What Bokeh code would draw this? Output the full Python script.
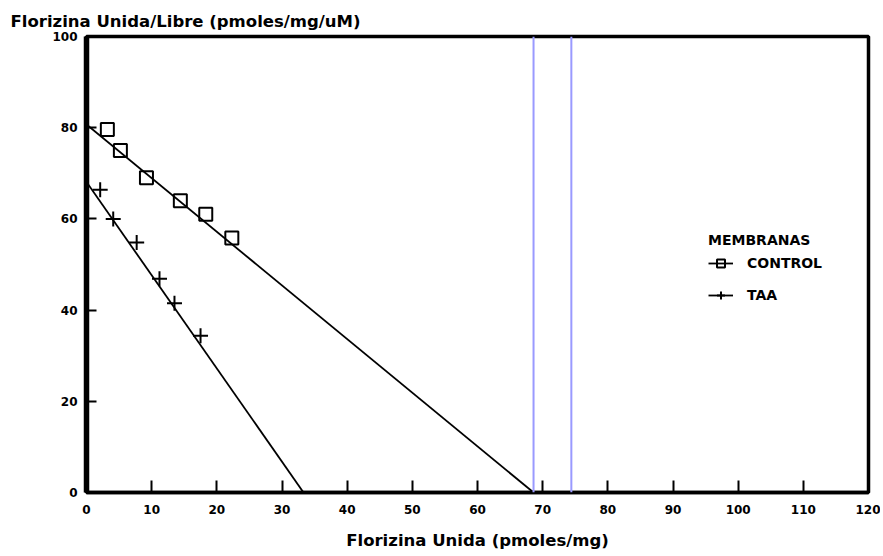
from bokeh.plotting import figure
from bokeh.models import Range1d, FixedTicker, Span, Legend, LegendItem, Title
from bokeh.embed import file_html
from bokeh.resources import INLINE

# ---- data ----
control_x = [3.2, 5.2, 9.2, 14.4, 18.3, 22.3]
control_y = [79.6, 75.0, 69.0, 64.0, 61.0, 55.8]
taa_x = [2.1, 4.1, 7.7, 11.2, 13.5, 17.5]
taa_y = [66.4, 60.0, 54.8, 46.9, 41.5, 34.4]
control_fit_x = [0.0, 68.6]
control_fit_y = [80.7, 0.0]
taa_fit_x = [0.0, 33.3]
taa_fit_y = [68.1, 0.0]
x_ticks = [0, 10, 20, 30, 40, 50, 60, 70, 80, 90, 100, 110, 120]
y_ticks = [0, 20, 40, 60, 80, 100]
cursor_x = [68.6, 74.4]
series_labels = ["CONTROL", "TAA"]
legend_title = "MEMBRANAS"
title_text = "Florizina Unida/Libre (pmoles/mg/uM)"
xlabel_text = "Florizina Unida (pmoles/mg)"

FONT = "DejaVu Sans"

p = figure(width=880, height=556, output_backend="svg", toolbar_location=None,
           x_range=Range1d(0, 120), y_range=Range1d(0, 100),
           min_border_left=86, min_border_right=12, min_border_top=36, min_border_bottom=64)
p.background_fill_color = "white"
p.border_fill_color = "white"
p.grid.visible = False
p.outline_line_color = "black"
p.outline_line_width = 3.5

for ax in (p.xaxis[0], p.yaxis[0]):
    ax.major_tick_out = 0
    ax.minor_tick_in = 0
    ax.minor_tick_out = 0
    ax.major_tick_line_width = 2
    ax.major_tick_line_color = "black"
    ax.axis_line_color = "black"
    ax.major_label_text_font = FONT
    ax.major_label_text_font_style = "bold"
    ax.major_label_text_font_size = "12px"
    ax.major_label_text_color = "black"

p.xaxis[0].ticker = FixedTicker(ticks=x_ticks)
p.yaxis[0].ticker = FixedTicker(ticks=y_ticks)
p.xaxis[0].major_tick_in = 12
p.yaxis[0].major_tick_in = 10
p.xaxis[0].axis_line_width = 3.5
p.yaxis[0].axis_line_width = 5.5
p.xaxis[0].major_label_standoff = 12
p.yaxis[0].major_label_standoff = 9
p.xaxis[0].axis_label = xlabel_text
p.xaxis[0].axis_label_text_font = FONT
p.xaxis[0].axis_label_text_font_style = "bold"
p.xaxis[0].axis_label_text_font_size = "16.5px"
p.xaxis[0].axis_label_text_color = "black"
p.xaxis[0].axis_label_standoff = 14

# cursor lines
for cx in cursor_x:
    p.add_layout(Span(location=cx, dimension="height", line_color="#9a9aff", line_width=2))

# fit lines and points
cl = p.line(control_fit_x, control_fit_y, line_color="black", line_width=1.8)
tl = p.line(taa_fit_x, taa_fit_y, line_color="black", line_width=1.8)
cs = p.scatter(control_x, control_y, marker="square", size=13, line_color="black",
               line_width=2, fill_alpha=0)
ts = p.scatter(taa_x, taa_y, marker="cross", size=15, line_color="black", line_width=2)

legend = Legend(items=[LegendItem(label=series_labels[0], renderers=[cl, cs]),
                       LegendItem(label=series_labels[1], renderers=[tl, ts])],
                location=(622, 187), title=legend_title,
                title_text_font=FONT, title_text_font_style="bold", title_text_font_size="14px",
                title_text_color="black",
                label_text_font=FONT, label_text_font_style="bold", label_text_font_size="14px",
                label_text_color="black",
                padding=0, margin=0, spacing=12, label_height=20, glyph_height=20, glyph_width=25,
                label_standoff=14, title_standoff=5,
                border_line_alpha=0, background_fill_alpha=0)
p.add_layout(legend)

p.add_layout(Title(text=title_text, align="left", offset=-76, standoff=12,
                   text_font=FONT, text_font_style="bold", text_font_size="16.5px",
                   text_color="black"), "above")

open("out.html", "w").write(file_html(p, INLINE))
